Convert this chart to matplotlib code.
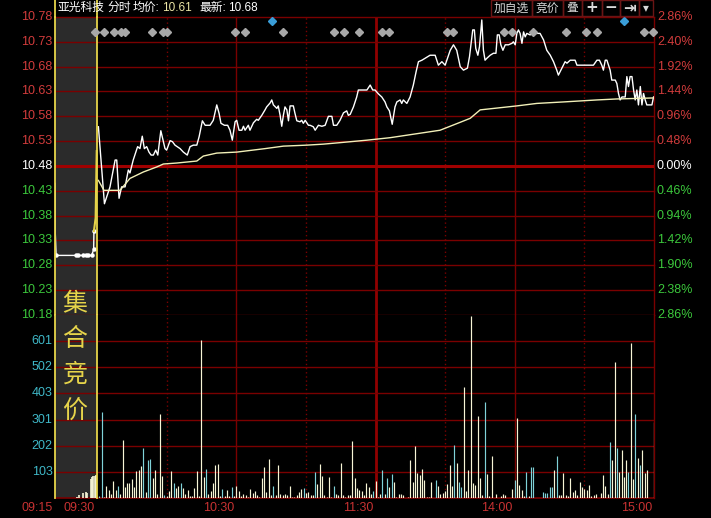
import numpy as np
import matplotlib
matplotlib.use('Agg')
import matplotlib.pyplot as plt
import matplotlib.transforms as mtrans
from matplotlib.patches import Rectangle
from matplotlib.lines import Line2D

plt.rcParams['font.family'] = ['Liberation Sans', 'Noto Sans CJK SC', 'DejaVu Sans']

# --- data -------------------------------------------------------------
stock_name = '亚光科技'
avg_price_txt = '10.61'
last_price_txt = '10.68'
prev_close = 10.48

price_levels = [10.78, 10.73, 10.68, 10.63, 10.58, 10.53, 10.48,
                10.43, 10.38, 10.33, 10.28, 10.23, 10.18]
pct_labels = ['2.86%', '2.40%', '1.92%', '1.44%', '0.96%', '0.48%', '0.00%',
              '0.46%', '0.94%', '1.42%', '1.90%', '2.38%', '2.86%']
vol_labels = ['103', '202', '301', '403', '502', '601']
vol_max = 701

time_labels = ['09:15', '09:30', '10:30', '11:30', '14:00', '15:00']

# call auction (minutes after 09:15)
auc_t = [0, 0.1, 0.4, 7.5, 8.3, 10.1, 11.1, 11.9, 13.1, 13.8, 13.9]
auc_p = [10.445, 10.345, 10.30, 10.30, 10.30, 10.30, 10.30, 10.30, 10.30, 10.312, 10.349]
auc_vol_t = [7.75, 8.7, 10.1, 11.1, 11.5, 12.75, 13.2, 13.7, 14.2, 14.6]
auc_vol = [4, 11, 20, 24, 18, 72, 82, 86, 85, 88]

# continuous trading, minutes after 09:30 (lunch removed)
price_min = [0.6, 3.2, 5.6, 7.8, 8.5, 9.5, 10.6, 12.1, 13.5, 14.2, 15.6, 17.5, 18.5,
             19.5, 20.4, 21.4, 22.4, 23.3, 24.3, 25.3, 26.2, 27.5, 28.6, 29.3, 30.0,
             31.5, 32.5, 33.6, 35.8, 37.2, 38.9, 40.1, 41.5, 43.0, 44.0, 45.4, 46.6,
             48.7, 50.1, 51.6, 52.6, 53.4, 54.9, 56.3, 57.3, 58.3, 59.5, 60.2, 61.2,
             62.4, 63.1, 63.8, 65.2, 65.9, 67.4, 68.8, 69.5, 71.0, 72.4, 73.1, 74.6,
             75.3, 76.0, 77.5, 78.1, 78.9, 79.6, 80.3, 81.0, 81.8, 82.5, 83.2, 84.6,
             85.3, 86.1, 87.5, 88.2, 88.9, 89.7, 91.1, 91.8, 93.2, 94.0, 95.4, 96.9,
             98.3, 99.7, 101.2, 101.9, 103.3, 104.7, 106.2, 107.6, 108.3, 109.1, 110.5,
             111.9, 112.6, 116.3, 117.7, 118.8, 119.8, 121.3, 122.7, 124.1, 124.9,
             126.0, 127.2, 128.4, 129.2, 130.6, 131.3, 132.0, 133.5, 134.9, 136.3,
             137.5, 138.5, 140.0, 143.5, 145.7, 146.4, 147.1, 148.6, 150.0, 152.2,
             153.6, 155.0, 156.5, 157.9, 159.6, 160.5, 161.9, 162.6, 163.2, 164.1,
             164.8, 165.8, 166.5, 167.2, 168.0, 169.4, 170.8, 171.9, 172.5, 173.3,
             174.0, 174.9, 175.9, 177.3, 178.8, 179.4, 180.2, 180.9, 181.6, 182.3,
             183.1, 183.8, 184.5, 185.2, 186.6, 188.1, 190.9, 192.4, 193.8, 195.3,
             196.7, 198.1, 198.8, 200.3, 201.7, 202.5, 203.9, 206.0, 206.8, 213.9,
             215.4, 216.5, 217.5, 218.2, 219.0, 219.7, 221.1, 221.8, 223.3, 224.0,
             224.7, 225.4, 226.2, 227.6, 228.3, 229.0, 229.7, 230.5, 231.2, 231.9,
             232.6, 233.3, 234.1, 234.8, 235.5, 236.2, 236.9, 239.1, 239.8]
price_val = [10.559, 10.404, 10.438, 10.492, 10.492, 10.415, 10.438, 10.438, 10.472,
             10.466, 10.492, 10.519, 10.515, 10.540, 10.515, 10.519, 10.508, 10.502,
             10.502, 10.512, 10.502, 10.551, 10.529, 10.515, 10.512, 10.531, 10.529,
             10.522, 10.515, 10.508, 10.502, 10.519, 10.522, 10.522, 10.539, 10.571,
             10.562, 10.562, 10.572, 10.603, 10.586, 10.566, 10.562, 10.562, 10.552,
             10.532, 10.569, 10.572, 10.552, 10.552, 10.560, 10.552, 10.562, 10.552,
             10.567, 10.574, 10.572, 10.582, 10.593, 10.599, 10.607, 10.613, 10.603,
             10.596, 10.601, 10.582, 10.560, 10.582, 10.599, 10.593, 10.571, 10.601,
             10.601, 10.586, 10.571, 10.569, 10.572, 10.566, 10.572, 10.562, 10.562,
             10.559, 10.552, 10.562, 10.560, 10.562, 10.580, 10.580, 10.562, 10.562,
             10.572, 10.587, 10.591, 10.582, 10.584, 10.599, 10.619, 10.633, 10.633,
             10.643, 10.633, 10.633, 10.625, 10.619, 10.609, 10.599, 10.591, 10.564,
             10.599, 10.609, 10.613, 10.606, 10.613, 10.606, 10.619, 10.643, 10.670,
             10.690, 10.693, 10.703, 10.703, 10.693, 10.683, 10.690, 10.683, 10.713,
             10.724, 10.713, 10.680, 10.673, 10.677, 10.700, 10.754, 10.754, 10.717,
             10.703, 10.720, 10.774, 10.713, 10.693, 10.697, 10.703, 10.707, 10.707,
             10.744, 10.744, 10.724, 10.713, 10.724, 10.724, 10.727, 10.730, 10.724,
             10.747, 10.754, 10.747, 10.727, 10.750, 10.740, 10.747, 10.744, 10.747,
             10.747, 10.734, 10.713, 10.703, 10.690, 10.673, 10.663, 10.677, 10.690,
             10.687, 10.693, 10.693, 10.683, 10.683, 10.693, 10.693, 10.683, 10.673,
             10.693, 10.693, 10.673, 10.653, 10.653, 10.646, 10.626, 10.613, 10.619,
             10.619, 10.660, 10.640, 10.660, 10.660, 10.633, 10.613, 10.633, 10.603,
             10.640, 10.603, 10.626, 10.613, 10.603, 10.603, 10.619]

avg_min = [0.6, 3.0, 9.9, 14.2, 20.0, 25.7, 28.6, 34.4, 43.0, 45.8, 51.6, 60.2, 72.4,
           80.3, 90.4, 97.5, 104.7, 116.3, 126.3, 147.8, 156.5, 160.8, 165.1, 180.9,
           189.5, 201.0, 215.4, 224.0, 239.8]
avg_val = [10.451, 10.431, 10.431, 10.455, 10.468, 10.478, 10.484, 10.486, 10.490,
           10.500, 10.506, 10.508, 10.515, 10.520, 10.522, 10.524, 10.527, 10.532,
           10.537, 10.552, 10.568, 10.576, 10.593, 10.601, 10.606, 10.609, 10.613,
           10.615, 10.617]

volumes = [8, 330, 4, 46, 31, 15, 65, 31, 46, 15, 222, 42, 57, 58, 73, 42, 103, 107, 123, 192,
           23, 146, 150, 77, 107, 15, 322, 84, 11, 8, 27, 103, 56, 38, 46, 56, 38, 15, 31, 8,
           8, 38, 103, 8, 605, 80, 111, 15, 27, 56, 126, 130, 8, 35, 8, 31, 8, 42, 8, 46,
           27, 8, 15, 11, 5, 33, 18, 27, 11, 4, 75, 117, 22, 148, 11, 46, 11, 126, 15, 11,
           15, 11, 46, 4, 4, 11, 22, 35, 37, 18, 22, 11, 11, 100, 54, 130, 84, 11, 4, 79,
           4, 46, 15, 11, 134, 11, 4, 11, 11, 218, 75, 38, 31, 27, 11, 56, 42, 15, 27, 66,
           4, 15, 106, 15, 75, 42, 91, 61, 4, 15, 15, 11, 0, 4, 144, 61, 199, 96, 88, 110,
           69, 4, 4, 61, 0, 69, 46, 15, 18, 27, 54, 126, 45, 202, 134, 61, 42, 425, 27, 106,
           696, 57, 50, 313, 77, 11, 369, 92, 8, 160, 0, 14, 0, 6, 14, 11, 0, 0, 35, 69,
           305, 50, 31, 8, 100, 8, 117, 117, 0, 0, 0, 22, 19, 19, 42, 42, 106, 160, 13, 13,
           96, 13, 9, 75, 24, 31, 11, 61, 42, 35, 31, 50, 6, 11, 14, 0, 18, 88, 46, 14,
           214, 144, 520, 190, 100, 183, 80, 144, 98, 593, 71, 321, 154, 126, 183, 94, 106, 0, 0, 290]
down_minutes = [1, 2, 9, 20, 22, 23, 29, 33, 36, 47, 54, 58, 76, 89, 94, 102, 119, 123,
                125, 127, 146, 154, 156, 157, 167, 180, 185, 187, 188, 192, 193, 194,
                195, 196, 198, 221, 224, 229, 232, 234]

gray_marks = [-1.0, 3.1, 7.5, 10.5, 12.1, 23.6, 28.3, 30.3, 59.6, 63.6, 80.3, 102.2,
              106.5, 113.1, 122.7, 126.0, 150.7, 153.6, 175.3, 178.8, 187.9, 202.0,
              210.6, 215.5, 235.7, 239.7]
blue_marks = [75.3, 226.9]

# --- layout -------------------------------------------------------------
W, H = 711, 518
AUC = 18.1  # width of the auction band in trading-minute units
RED = '#d23c3c'
GREEN = '#3cc83c'
GRID = '#7a0000'
YEL = '#e6d44a'


def auc_x(t):
    return -AUC + np.asarray(t) * AUC / 15.0


fig = plt.figure(figsize=(W / 100, H / 100), dpi=100, facecolor='black')
L, R = 55, 654
ax_p = fig.add_axes([L / W, 1 - 315 / H, (R - L) / W, (315 - 17) / H])
ax_v = fig.add_axes([L / W, 1 - 498 / H, (R - L) / W, (498 - 315) / H])

for ax in (ax_p, ax_v):
    ax.set_facecolor('black')
    ax.set_xlim(-AUC, 240)
    for s in ax.spines.values():
        s.set_visible(False)
    ax.set_xticks([])
    ax.set_yticks([])
    ax.axvspan(-AUC, 0, color='#2b2b2b', zorder=0, lw=0)
    for m in [30, 90, 150, 210]:
        ax.axvline(m, color=GRID, lw=1, ls=(0, (1, 2)), zorder=1)
    for m in [60, 180, 240]:
        ax.axvline(m, color=GRID, lw=1, zorder=1, clip_on=False)
    ax.axvline(120, color='#900000', lw=2, zorder=1)
    ax.axvline(-AUC, color=YEL, lw=1.3, zorder=4, clip_on=False)
    ax.axvline(0, color=YEL, lw=1.3, zorder=4, clip_on=False)

ax_p.set_ylim(10.18, 10.78)
ax_v.set_ylim(0, vol_max)

# price grid and labels
ytr = ax_p.get_yaxis_transform()
for lv, pl in zip(price_levels, pct_labels):
    if abs(lv - prev_close) < 1e-6:
        ax_p.axhline(lv, color='#a00000', lw=2.2, zorder=1)
        c = 'white'
    else:
        ax_p.axhline(lv, color=GRID, lw=1, zorder=1, clip_on=False)
        c = RED if lv > prev_close else GREEN
    ax_p.text(-0.004, lv, f'{lv:.2f}', transform=ytr, ha='right', va='center',
              color=c, fontsize=9)
    cp = RED if lv > prev_close else (GREEN if lv < prev_close else 'white')
    ax_p.text(1.005, lv, pl, transform=ytr, ha='left', va='center', color=cp, fontsize=9)

# volume grid and labels
vtr = ax_v.get_yaxis_transform()
for k, lab in enumerate(vol_labels, start=1):
    v = k * vol_max / 7
    ax_v.axhline(v, color=GRID, lw=1, zorder=1)
    ax_v.text(-0.004, v, lab, transform=vtr, ha='right', va='center',
              color='#3fb8c8', fontsize=9)
ax_v.axhline(0, color=GRID, lw=1.2, zorder=1, clip_on=False)

# auction price trace
ax_p.plot(auc_x(auc_t), auc_p, color='white', lw=1, marker='o', ms=2.2,
          markevery=list(range(2, len(auc_t))), zorder=3)
ax_p.plot(auc_x([13.9, 14.5, 14.9]), [10.349, 10.375, 10.51], color=YEL, lw=1.5, zorder=3)

# intraday price and average lines
ax_p.plot(price_min, price_val, color='white', lw=1, zorder=3)
ax_p.plot(avg_min, avg_val, color='#f2f0b8', lw=1, zorder=3)

# signal diamonds
ax_p.plot(gray_marks, [10.75] * len(gray_marks), ls='none', marker='D', ms=4.3,
          color='#a8a8a8', zorder=5, clip_on=False)
ax_p.plot(blue_marks, [10.771] * len(blue_marks), ls='none', marker='D', ms=4.3,
          color='#3a9ed8', zorder=5, clip_on=False)

# volume bars
mins = np.arange(1, len(volumes) + 1)
vcols = ['#7fd2d8' if m in down_minutes else '#f7f5d6' for m in mins]
ax_v.vlines(mins, 0, volumes, colors=vcols, lw=0.85, zorder=3)
ax_v.vlines(auc_x(auc_vol_t), 0, auc_vol, colors='#f7f5d6', lw=1.2, zorder=3)

# time labels, right aligned at their minute
time_pos = [-AUC, 0, 60, 120, 180, 240]
xtr = mtrans.offset_copy(ax_v.get_xaxis_transform(), fig=fig, x=-2, y=0, units='dots')
for tp, tl in zip(time_pos, time_labels):
    ax_v.text(tp, -10 / 183, tl, transform=xtr, ha='right', va='center',
              color='#c83232', fontsize=9, clip_on=False)

# auction band text
for ch, yc in zip('集合竞价', [304, 339, 375, 411]):
    fig.text(75 / W, 1 - yc / H, ch, ha='center', va='center', color=YEL,
             fontsize=18, fontweight='light', family=['Noto Sans CJK SC'])

# header area: yellow band borders above the plot
for xp in (L, 97):
    fig.add_artist(Line2D([xp / W, xp / W], [1 - 17 / H, 1], color=YEL, lw=1.3))

hdr_y = 1 - 8 / H
fig.text(57 / W, hdr_y, stock_name, color='white', fontsize=8.5, va='center')
fig.text(107 / W, hdr_y, '分时', color='white', fontsize=8.5, va='center')
fig.text(133 / W, hdr_y, '均价:', color='white', fontsize=8.5, va='center')
fig.text(162 / W, hdr_y, avg_price_txt, color='#ece6a6', fontsize=8.5, va='center')
fig.text(199 / W, hdr_y, '最新:', color='white', fontsize=8.5, va='center')
fig.text(228 / W, hdr_y, last_price_txt, color='white', fontsize=8.5, va='center')

# toolbar buttons
btn_edges = [491, 532, 563, 582, 602, 620, 639, 653]
btn_text = ['加自选', '竞价', '叠', '+', '−', '⇥', '▾']
for (x0, x1), t in zip(zip(btn_edges[:-1], btn_edges[1:]), btn_text):
    fig.add_artist(Rectangle((x0 / W, 1 - 16 / H), (x1 - x0) / W, 16 / H,
                             transform=fig.transFigure, fill=False,
                             ec='#6a1515', lw=1))
    bold = t in ('+', '−', '⇥')
    fig.text((x0 + x1) / 2 / W, 1 - 8 / H, t, ha='center', va='center',
             color='#d8d8d8', fontsize=11 if bold else 8.5,
             fontweight='bold' if bold else 'normal',
             family=['Noto Sans CJK SC', 'DejaVu Sans'] if not bold else ['DejaVu Sans'])

fig.savefig('out.png', dpi=100, facecolor='black')
